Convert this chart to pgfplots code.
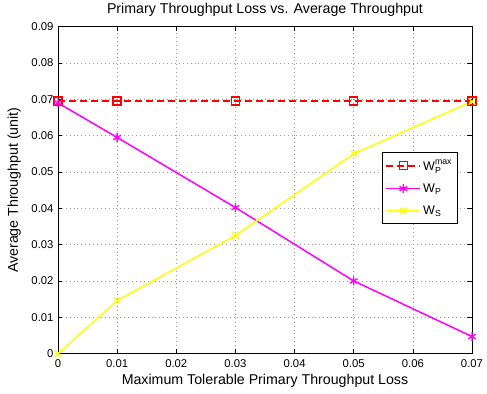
\documentclass[border=0pt]{standalone}
\usepackage{fontspec}
\setmainfont{Liberation Sans}
\usepackage{amsmath}
\usepackage{pgfplots}
\pgfplotsset{compat=1.18}
\definecolor{mred}{RGB}{255,0,0}
\definecolor{mmag}{RGB}{255,0,255}
\definecolor{myel}{RGB}{255,255,0}
\begin{document}
\begin{tikzpicture}
\begin{axis}[
  at={(0,0)}, anchor=south west,
  scale only axis, width=414pt, height=327pt,
  xmin=0, xmax=0.07, ymin=0, ymax=0.09,
  xtick={0,0.01,0.02,0.03,0.04,0.05,0.06,0.07},
  ytick={0,0.01,0.02,0.03,0.04,0.05,0.06,0.07,0.08,0.09},
  xticklabels={0,0.01,0.02,0.03,0.04,0.05,0.06,0.07},
  yticklabels={0,0.01,0.02,0.03,0.04,0.05,0.06,0.07,0.08,0.09},
  scaled ticks=false,
  tick align=inside, tick pos=both,
  major tick length=4.5pt,
  grid=major,
  major grid style={gray!75, line width=0.6pt, dash pattern=on 0.7pt off 3.2pt},
  axis line style={line width=0.8pt},
  tick style={black, line width=0.6pt},
  xticklabel style={font=\fontsize{11.3pt}{13pt}\selectfont, yshift=-2pt},
  yticklabel style={font=\fontsize{11.3pt}{13pt}\selectfont, xshift=-1pt},
  title={Primary Throughput Loss vs. Average Throughput},
  title style={font=\fontsize{14.2pt}{16pt}\selectfont, at={(axis description cs:0.5,1)}, anchor=base, yshift=7pt},
  xlabel={Maximum Tolerable Primary Throughput Loss},
  ylabel={Average Throughput (unit)},
  xlabel style={font=\fontsize{14.2pt}{16pt}\selectfont, at={(axis description cs:0.5,0)}, anchor=base, yshift=-31pt},
  ylabel style={font=\fontsize{14.2pt}{16pt}\selectfont, at={(axis description cs:-0.106,0.5)}, anchor=center},
  legend style={at={(0.783,0.618)}, anchor=north west, draw=black, line width=0.8pt,
    font=\fontsize{12.5pt}{14pt}\selectfont, row sep=8pt, inner xsep=3pt, inner ysep=6pt},
  legend cell align=left,
  legend image code/.code={\draw[mark repeat=2,mark phase=2,#1] plot coordinates {(0cm,0cm) (0.6cm,0cm) (1.2cm,0cm)};},
]
\addplot[mred, line width=1.5pt, dash pattern=on 7pt off 4pt, mark=square, mark size=4pt, mark options={solid, line width=1.3pt}]
  coordinates {(0,0.0695) (0.01,0.0695) (0.03,0.0695) (0.05,0.0695) (0.07,0.0695)};
\addlegendentry{$\text{W}_{\text{P}}^{\text{max}}$}
\addplot[mmag, line width=1.5pt, mark=asterisk, mark size=4.5pt, mark options={line width=1.3pt}]
  coordinates {(0,0.0690) (0.01,0.0595) (0.03,0.0402) (0.05,0.0200) (0.07,0.0047)};
\addlegendentry{$\text{W}_{\text{P}}$}
\addplot[myel, line width=1.5pt, mark=x, mark size=4.5pt, mark options={line width=1.3pt}]
  coordinates {(0,0.0) (0.01,0.0146) (0.03,0.0325) (0.05,0.0550) (0.07,0.0694)};
\addlegendentry{$\text{W}_{\text{S}}$}
\end{axis}
\useasboundingbox (-58pt,-40pt) rectangle (429pt,350pt);
\end{tikzpicture}
\end{document}
